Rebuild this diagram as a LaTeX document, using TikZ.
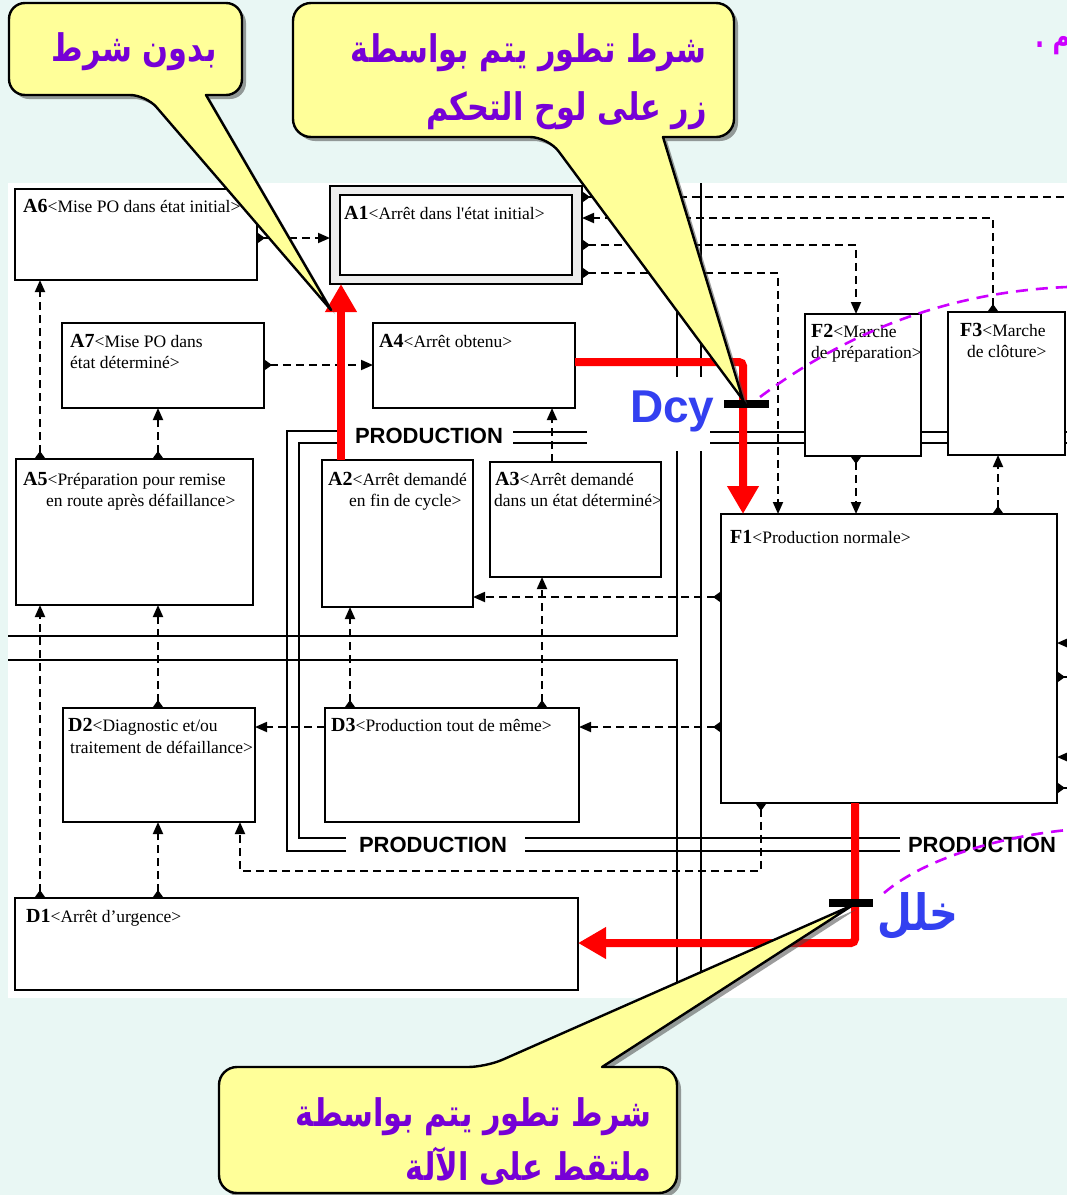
\documentclass[tikz,border=0pt]{standalone}
\usepackage{fontspec}
\setmainfont{Liberation Serif}
\newfontfamily\sansfam{Liberation Sans}
\newfontfamily\arabicfont[Script=Arabic, FakeStretch=0.8]{DejaVu Sans}
\TeXXeTstate=1
\usetikzlibrary{arrows.meta,shadows}
\definecolor{bgmint}{RGB}{233,247,244}
\definecolor{callyellow}{RGB}{255,255,153}
\definecolor{callpurple}{RGB}{118,0,214}
\definecolor{dcyblue}{RGB}{51,64,240}
\definecolor{magdash}{RGB}{204,0,255}
\newcommand\gemmaid[1]{{\fontsize{20}{22}\selectfont\bfseries #1}}
\tikzset{
  gbox/.style={draw=black, line width=2.6pt, fill=white, anchor=north west, inner sep=0pt, outer sep=0pt},
  lbl/.style={font=\fontsize{17.5}{20}\selectfont, inner sep=0pt, anchor=base west},
  struct/.style={line width=1.8pt},
  prod/.style={line width=2.8pt},
  prodtxt/.style={font=\sansfam\bfseries\fontsize{22}{24}\selectfont, inner sep=0pt, anchor=base},
  flowline/.style={line width=1.8pt, dash pattern=on 8pt off 5pt},
  flow/.style={flowline, arrows={Triangle[reversed,length=8pt,width=11pt]-Triangle[length=12pt,width=10pt]}},
  flowin/.style={flowline, arrows={-Triangle[length=12pt,width=10pt]}},
  flowout/.style={flowline, arrows={Triangle[reversed,length=8pt,width=11pt]-}},
  redflow/.style={draw=red, line width=8pt, rounded corners=4pt, arrows={-Triangle[length=28pt,width=30pt]}},
  tbar/.style={line width=8pt, draw=black},
  magcurve/.style={draw=magdash, line width=2.6pt, dash pattern=on 12pt off 8pt},
  callout/.style={fill=callyellow, draw=black, line width=2.4pt, line join=round,
     drop shadow={shadow xshift=4pt, shadow yshift=-4pt, opacity=0.55, fill=black!70}},
  artxt/.style={font=\arabicfont\bfseries\fontsize{38}{44}\selectfont, text=callpurple, inner sep=0pt},
}
\begin{document}
\begin{tikzpicture}[x=1pt,y=-1pt]
\useasboundingbox (0,0) rectangle (1067,1195);
\clip (0,0) rectangle (1067,1195);
\fill[bgmint] (0,0) rectangle (1067,1195);
\fill[white] (8,183) rectangle (1067,998);

% ---------- level coordinates
\coordinate (edgeR) at (1067,0);
\coordinate (vx40) at (40,0);
\coordinate (vx158) at (158,0);
\coordinate (vx240) at (240,0);
\coordinate (vx341) at (341,0);
\coordinate (vx350) at (350,0);
\coordinate (vx542) at (542,0);
\coordinate (vx552) at (552,0);
\coordinate (vx743) at (743,0);
\coordinate (vx761) at (761,0);
\coordinate (vx778) at (778,0);
\coordinate (vx855) at (855,0);
\coordinate (vx856) at (856,0);
\coordinate (vx993) at (993,0);
\coordinate (vx998) at (998,0);
\coordinate (hy197) at (0,197);
\coordinate (hy218) at (0,218);
\coordinate (hy238) at (0,238);
\coordinate (hy245) at (0,245);
\coordinate (hy273) at (0,273);
\coordinate (hy362) at (0,362);
\coordinate (hy365) at (0,365);
\coordinate (hy597) at (0,597);
\coordinate (hy643) at (0,643);
\coordinate (hy677) at (0,677);
\coordinate (hy727) at (0,727);
\coordinate (hy757) at (0,757);
\coordinate (hy788) at (0,788);
\coordinate (hy871) at (0,871);
\coordinate (hy943) at (0,943);

% ---------- structure lines
\draw[struct] (8,636) -- (677,636) -- (677,183);
\draw[struct] (8,660) -- (677,660) -- (677,998);
\draw[struct] (701,183) -- (701,998);

% ---------- production frame
\draw[prod] (346,851) -- (287,851) -- (287,431) -- (345,431);
\draw[prod] (346,838) -- (299,838) -- (299,443) -- (345,443);
\draw[prod] (513,432) -- (805,432);
\draw[prod] (513,443) -- (805,443);
\draw[prod] (920,432) -- (949,432);
\draw[prod] (920,443) -- (949,443);
\draw[prod] (1064,432) -- (1067,432);
\draw[prod] (1064,443) -- (1067,443);
\draw[prod] (525,838) -- (900,838);
\draw[prod] (525,851) -- (900,851);
\node[prodtxt] (prodA) at (429,443) {PRODUCTION};
\node[prodtxt] (prodB) at (433,852) {PRODUCTION};
\node[prodtxt] (prodC) at (982,852) {PRODUCTION};

% ---------- boxes
\node[gbox, minimum width=242pt, minimum height=91pt] (A6) at (15,189) {};
\node[gbox, line width=2pt, fill=gray!14, minimum width=252pt, minimum height=98pt] (A1) at (330,186) {};
\node[gbox, minimum width=232pt, minimum height=80pt] (A1in) at (340,195) {};
\node[gbox, minimum width=202pt, minimum height=85pt] (A7) at (62,323) {};
\node[gbox, minimum width=202pt, minimum height=85pt] (A4) at (373,323) {};
\node[gbox, minimum width=237pt, minimum height=146pt] (A5) at (16,459) {};
\node[gbox, minimum width=151pt, minimum height=147pt] (A2) at (322,460) {};
\node[gbox, minimum width=171pt, minimum height=115pt] (A3) at (490,462) {};
\node[gbox, minimum width=116pt, minimum height=142pt] (F2) at (805,314) {};
\node[gbox, minimum width=117pt, minimum height=143pt] (F3) at (948,312) {};
\node[gbox, minimum width=336pt, minimum height=289pt] (F1) at (721,514) {};
\node[gbox, minimum width=192pt, minimum height=114pt] (D2) at (63,708) {};
\node[gbox, minimum width=254pt, minimum height=114pt] (D3) at (325,708) {};
\node[gbox, minimum width=563pt, minimum height=92pt] (D1) at (15,898) {};

% ---------- box texts
\node[lbl] (tA6) at (23,212) {\gemmaid{A6}<Mise PO dans état initial>};
\node[lbl] (tA1) at (344,219) {\gemmaid{A1}<Arrêt dans l\textquotesingle état initial>};
\node[lbl] (tA7a) at (70,347) {\gemmaid{A7}<Mise PO dans};
\node[lbl] (tA7b) at (70,368) {état déterminé>};
\node[lbl] (tA4) at (379,347) {\gemmaid{A4}<Arrêt obtenu>};
\node[lbl] (tA5a) at (23,485) {\gemmaid{A5}<Préparation pour remise};
\node[lbl] (tA5b) at (46,506) {en route après défaillance>};
\node[lbl] (tA2a) at (328,485) {\gemmaid{A2}<Arrêt demandé};
\node[lbl] (tA2b) at (349,506) {en fin de cycle>};
\node[lbl] (tA3a) at (495,485) {\gemmaid{A3}<Arrêt demandé};
\node[lbl] (tA3b) at (494,506) {dans un état déterminé>};
\node[lbl] (tF2a) at (811,337) {\gemmaid{F2}<Marche};
\node[lbl] (tF2b) at (811,358) {de préparation>};
\node[lbl] (tF3a) at (960,336) {\gemmaid{F3}<Marche};
\node[lbl] (tF3b) at (967,357) {de clôture>};
\node[lbl] (tF1) at (730,543) {\gemmaid{F1}<Production normale>};
\node[lbl] (tD2a) at (68,731) {\gemmaid{D2}<Diagnostic et/ou};
\node[lbl] (tD2b) at (70,753) {traitement de défaillance>};
\node[lbl] (tD3) at (331,731) {\gemmaid{D3}<Production tout de même>};
\node[lbl] (tD1) at (26,922) {\gemmaid{D1}<Arrêt d’urgence>};

% ---------- dashed connectors
\draw[flow] (A6.east |- hy238) -- (A1.west |- hy238);
\draw[flow] (A7.east |- hy365) -- (A4.west |- hy365);
\draw[flow] (A5.north -| vx40) -- (A6.south -| vx40);
\draw[flow] (A5.north -| vx158) -- (A7.south -| vx158);
\draw[flowin] (A3.north -| vx552) -- (A4.south -| vx552);
\draw[flowout] (A1.east |- hy197) -- (edgeR |- hy197);
\draw[flow] (F3.north -| vx993) -- (vx993 |- hy218) -- (A1.east |- hy218);
\draw[flow] (A1.east |- hy245) -- (vx856 |- hy245) -- (F2.north -| vx856);
\draw[flow] (A1.east |- hy273) -- (vx778 |- hy273) -- (F1.north -| vx778);
\draw[flow] (F2.south -| vx856) -- (F1.north -| vx856);
\draw[flow] (F1.north -| vx998) -- (F3.south -| vx998);
\draw[flow] (F1.west |- hy597) -- (A2.east |- hy597);
\draw[flow] (D3.north -| vx542) -- (A3.south -| vx542);
\draw[flow] (F1.west |- hy727) -- (D3.east |- hy727);
\draw[flowin] (D3.west |- hy727) -- (D2.east |- hy727);
\draw[flow] (D3.north -| vx350) -- (A2.south -| vx350);
\draw[flow] (D2.north -| vx158) -- (A5.south -| vx158);
\draw[flow] (D1.north -| vx40) -- (A5.south -| vx40);
\draw[flow] (D1.north -| vx158) -- (D2.south -| vx158);
\draw[flow] (F1.south -| vx761) -- (vx761 |- hy871) -- (vx240 |- hy871) -- (D2.south -| vx240);
\draw[flowin] (edgeR |- hy643) -- (F1.east |- hy643);
\draw[flowout] (F1.east |- hy677) -- (edgeR |- hy677);
\draw[flowin] (edgeR |- hy757) -- (F1.east |- hy757);
\draw[flowout] (F1.east |- hy788) -- (edgeR |- hy788);

% ---------- Dcy label
\fill[white] (587,377) rectangle (710,451);
\node[font=\sansfam\bfseries\fontsize{46}{50}\selectfont, text=dcyblue, inner sep=0pt, anchor=base west] (dcy) at (630,422) {Dcy};

% ---------- red evolutions
\draw[redflow] (A2.north -| vx341) -- (A1.south -| vx341);
\draw[redflow] (A4.east |- hy362) -- (vx743 |- hy362) -- (F1.north -| vx743);
\draw[redflow] (F1.south -| vx855) -- (vx855 |- hy943) -- (D1.east |- hy943);

% ---------- transitions
\draw[tbar] (724,404) -- (769,404);
\draw[tbar] (829,903) -- (873,903);
\node[font=\arabicfont\bfseries\fontsize{50}{56}\selectfont, text=dcyblue, inner sep=0pt, anchor=base east] (khalal) at (959,930) {\beginR خلل\endR};

% ---------- magenta dashed arcs
\draw[magcurve] (760,397) .. controls (850,330) and (950,292) .. (1067,287);
\draw[magcurve] (884,893) .. controls (920,862) and (990,838) .. (1067,830);

% ---------- top-right fragment
\node[font=\arabicfont\bfseries\fontsize{30}{34}\selectfont, text=magdash, inner sep=0pt, anchor=base west] (frag) at (1035,47) {\beginR م .\endR};

% ---------- callouts
\path[callout] (125,3) [rounded corners=16pt] -- (9,3) -- (9,95) -- (146,95) [sharp corners] -- (331,310) -- (206,95) [rounded corners=16pt] -- (242,95) -- (242,3) -- cycle;
\path[callout] (510,3) [rounded corners=18pt] -- (293,3) -- (293,137) -- (548,137) [sharp corners] -- (743,400) -- (663,137) [rounded corners=18pt] -- (734,137) -- (734,3) -- cycle;
\path[callout] (448,1193) [rounded corners=18pt] -- (219,1193) -- (219,1067) -- (486,1067) [sharp corners] -- (853,905) -- (602,1067) [rounded corners=18pt] -- (677,1067) -- (677,1193) -- cycle;

\node[artxt, anchor=base] (c1) at (134,61) {\beginR بدون شرط\endR};
\node[artxt, anchor=base east] (c2a) at (707,62) {\beginR شرط تطور يتم بواسطة\endR};
\node[artxt, anchor=base east] (c2b) at (707,120) {\beginR زر على لوح التحكم\endR};
\node[artxt, anchor=base east] (c3a) at (652,1126) {\beginR شرط تطور يتم بواسطة\endR};
\node[artxt, anchor=base east] (c3b) at (652,1180) {\beginR ملتقط على الآلة\endR};
\end{tikzpicture}
\end{document}
